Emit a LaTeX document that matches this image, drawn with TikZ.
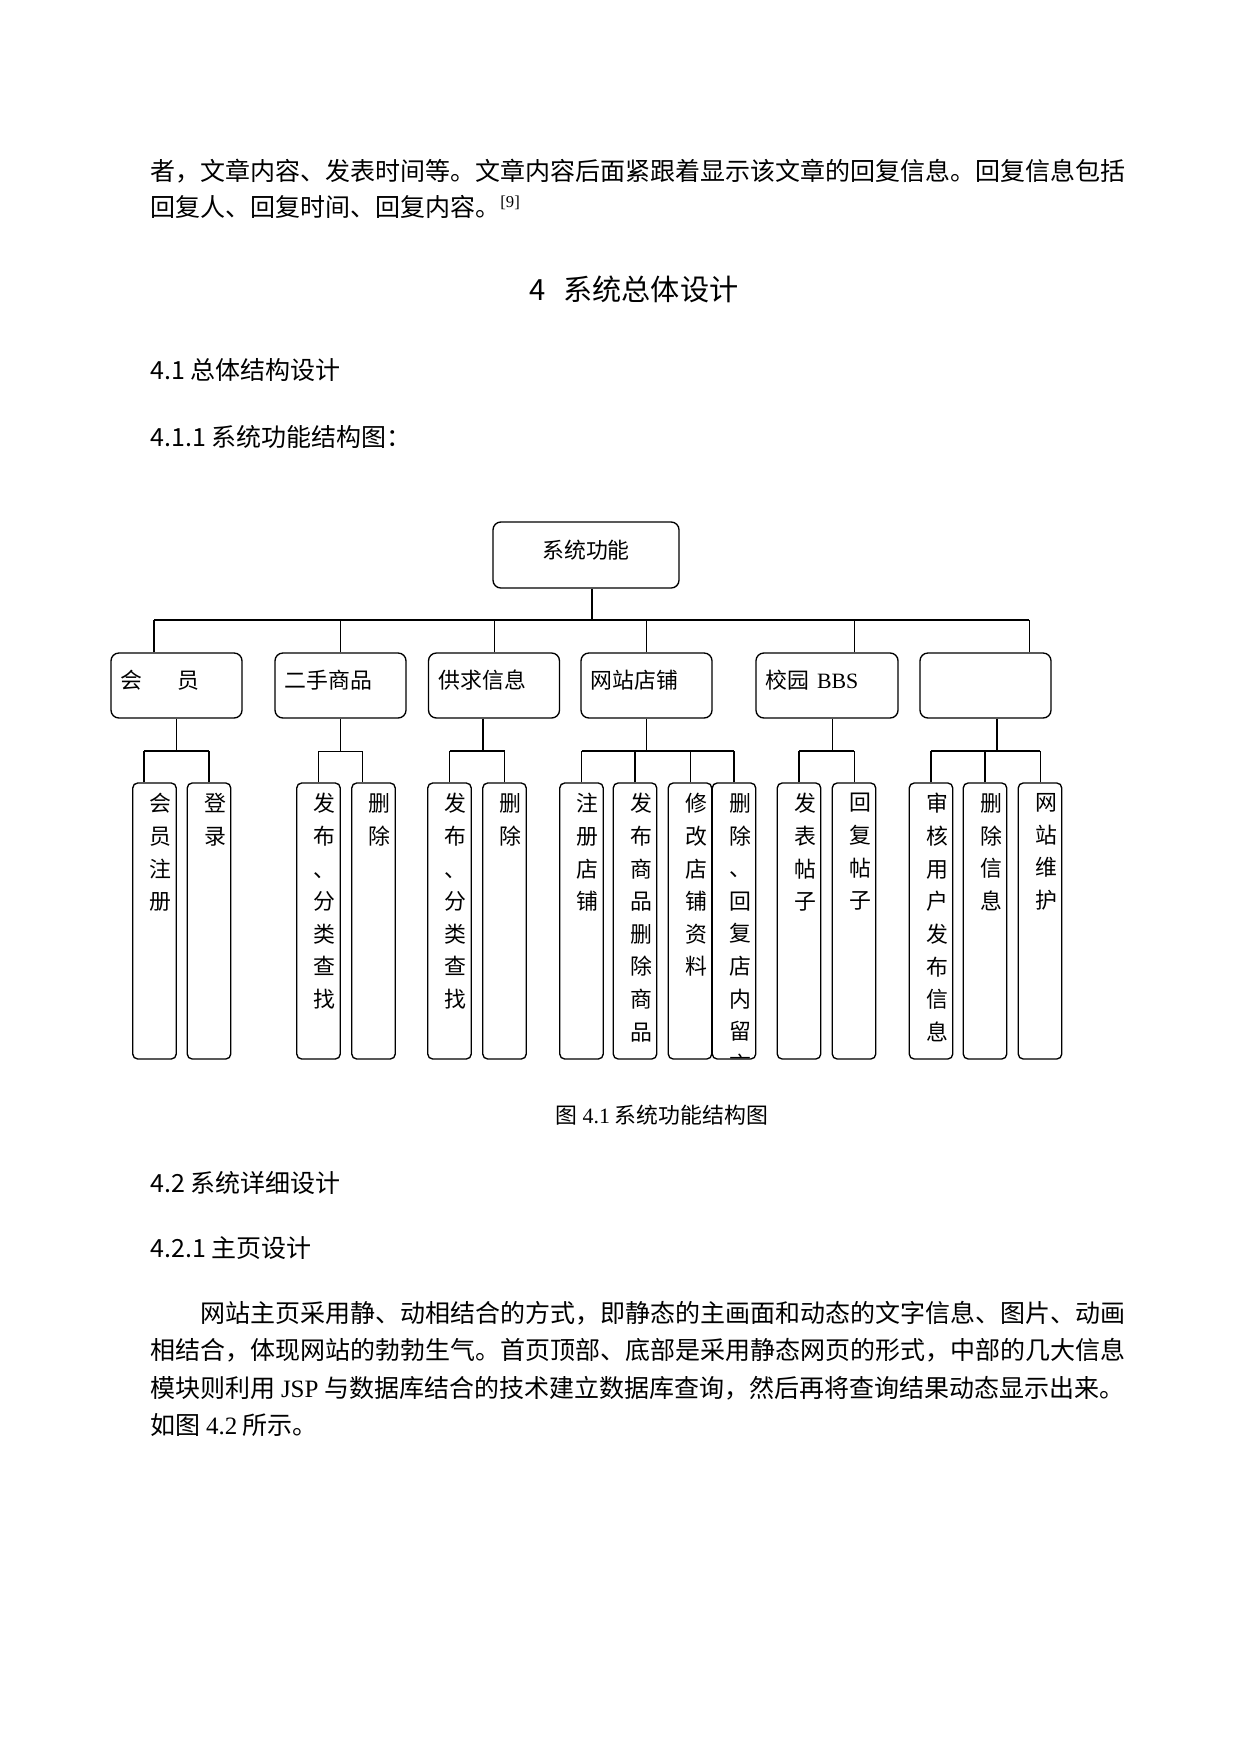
\documentclass[tikz,border=0pt]{standalone}
\usepackage{fontspec}
\setmainfont{Liberation Serif}
\newfontfamily\cjk{Noto Sans CJK SC}
\usetikzlibrary{calc}

\tikzset{
  thickline/.style={line width=0.8pt},
  thinline/.style={line width=0.35pt},
  rootbox/.style={draw, line width=0.65pt, rounded corners=3.8pt, minimum width=89.3pt, minimum height=31.7pt, text depth=5.7pt, font=\fontsize{10.5pt}{12pt}\selectfont\cjk},
  mainbox/.style={draw, line width=0.65pt, rounded corners=3.8pt, minimum height=31.2pt, inner xsep=4.8pt, text width=53.3pt, text depth=5.7pt, align=left, font=\fontsize{10.5pt}{12pt}\selectfont\cjk},
  vtext/.style={draw=none, anchor=north, inner sep=0pt, minimum width=0pt, minimum height=0pt, align=center, font=\fontsize{10.5pt}{15.65pt}\selectfont\cjk},
  subbox/.style 2 args={draw, line width=0.65pt, rounded corners=2.4pt, minimum width=20.9pt, minimum height=132.5pt, inner sep=0pt,
    path picture={\node[vtext] (#1) at ([xshift=2.9pt,yshift=-4.7pt]path picture bounding box.north) {#2};}},
  bodytext/.style={anchor=west, inner sep=0pt, font=\fontsize{12pt}{14pt}\selectfont\cjk},
  headtext/.style={anchor=west, inner sep=0pt, font=\fontsize{12pt}{14pt}\selectfont\cjk}
}

\begin{document}
\begin{tikzpicture}[x=0.48pt,y=-0.48pt]

\path[use as bounding box, fill=white] (0,0) rectangle (1241,1754);

% text above
\node[bodytext] (p1) at (150,171) {者，文章内容、发表时间等。文章内容后面紧跟着显示该文章的回复信息。回复信息包括};
\node[bodytext] (p2) at (150,207) {回复人、回复时间、回复内容。{\rmfamily\textsuperscript{[9]}}};
\node[inner sep=0pt, font=\fontsize{14pt}{16pt}\selectfont\cjk] (h4) at (634,289) {4\hspace{0.6em}系统总体设计};
\node[headtext] (h41) at (150,370) {4.1 总体结构设计};
\node[headtext] (h411) at (150,437) {4.1.1 系统功能结构图：};

% root and level 1
\node[rootbox] (root) at (586,555) {系统功能};
\node[mainbox] (m1) at (176.5,685.5) {会\hspace{16.4pt}员};
\node[mainbox] (m2) at (340.5,685.5) {二手商品};
\node[mainbox] (m3) at (494,685.5) {供求信息};
\node[mainbox] (m4) at (646.5,685.5) {网站店铺};
\node[mainbox, text width=58.6pt] (m5) at (827,685.5) {校园 {\rmfamily BBS}};
\node[mainbox] (m6) at (985.5,685.5) {};

% level 2
\node[subbox={a1t}{会\\员\\注\\册}] (a1) at (154.5,921) {};
\node[subbox={a2t}{登\\录}] (a2) at (209,921) {};
\node[subbox={b1t}{发\\布\\、\\分\\类\\查\\找}] (b1) at (318.5,921) {};
\node[subbox={b2t}{删\\除}] (b2) at (373.5,921) {};
\node[subbox={c1t}{发\\布\\、\\分\\类\\查\\找}] (c1) at (449.5,921) {};
\node[subbox={c2t}{删\\除}] (c2) at (504.5,921) {};
\node[subbox={d1t}{注\\册\\店\\铺}] (d1) at (581.5,921) {};
\node[subbox={d2t}{发\\布\\商\\品\\删\\除\\商\\品}] (d2) at (635,921) {};
\node[subbox={d3t}{修\\改\\店\\铺\\资\\料}] (d3) at (690,921) {};
\node[subbox={d4t}{删\\除\\、\\回\\复\\店\\内\\留\\言}] (d4) at (734,921) {};
\node[subbox={e1t}{发\\表\\帖\\子}] (e1) at (799,921) {};
\node[subbox={e2t}{回\\复\\帖\\子}] (e2) at (854,921) {};
\node[subbox={f1t}{审\\核\\用\\户\\发\\布\\信\\息}] (f1) at (931,921) {};
\node[subbox={f2t}{删\\除\\信\\息}] (f2) at (985,921) {};
\node[subbox={f3t}{网\\站\\维\\护}] (f3) at (1040,921) {};

% main bus
\coordinate (bus) at (0,620);
\coordinate (sbus) at (0,751);
\draw[thickline] ([xshift=2.9pt]root.south) -- ([xshift=2.9pt]root.south |- bus);
\draw[thickline] ([xshift=-10.8pt]m1.north |- bus) -- ([xshift=20.9pt]m6.north |- bus);

\foreach \n/\s/\w in {m1/-10.8pt/thickline, m2/0pt/thinline, m3/0pt/thinline, m4/0pt/thickline, m5/13pt/thinline, m6/20.9pt/thinline}
  \draw[\w] ([xshift=\s]\n.north) -- ([xshift=\s]\n.north |- bus);

\foreach \n/\s/\w in {m1/0pt/thinline, m2/0pt/thinline, m3/-5.3pt/thickline, m4/0pt/thinline, m5/2.4pt/thinline, m6/5.5pt/thickline}
  \draw[\w] ([xshift=\s]\n.south) -- ([xshift=\s]\n.south |- sbus);

% sub buses
\draw[thickline] ([xshift=-5pt]a1.north |- sbus) -- (a2.north |- sbus);
\draw[thinline] (b1.north |- sbus) -- ([xshift=-5.3pt]b2.north |- sbus);
\draw[thickline] (c1.north |- sbus) -- (c2.north |- sbus);
\draw[thickline] (d1.north |- sbus) -- (d4.north |- sbus);
\draw[thickline] (e1.north |- sbus) -- (e2.north |- sbus);
\draw[thickline] (f1.north |- sbus) -- (f3.north |- sbus);

\foreach \n/\s/\w in {a1/-5pt/thickline, a2/0pt/thickline, b1/0pt/thinline, b2/-5.3pt/thinline, c1/0pt/thickline, c2/0pt/thinline,
  d1/0pt/thickline, d2/0pt/thickline, d3/0pt/thinline, d4/0pt/thickline, e1/0pt/thickline, e2/0pt/thinline,
  f1/0pt/thickline, f2/0pt/thickline, f3/0pt/thinline}
  \draw[\w] ([xshift=\s]\n.north) -- ([xshift=\s]\n.north |- sbus);

% text below
\node[inner sep=0pt, font=\fontsize{10.5pt}{12pt}\selectfont\cjk] (cap) at (662,1115) {图 {\rmfamily 4.1} 系统功能结构图};
\node[headtext] (h42) at (150,1183) {4.2 系统详细设计};
\node[headtext] (h421) at (150,1248) {4.2.1 主页设计};
\node[bodytext] (q1) at (200,1313) {网站主页采用静、动相结合的方式，即静态的主画面和动态的文字信息、图片、动画};
\node[bodytext] (q2) at (150,1350) {相结合，体现网站的勃勃生气。首页顶部、底部是采用静态网页的形式，中部的几大信息};
\node[bodytext] (q3) at (150,1388) {模块则利用 {\rmfamily JSP} 与数据库结合的技术建立数据库查询，然后再将查询结果动态显示出来。};
\node[bodytext] (q4) at (150,1425) {如图 {\rmfamily 4.2} 所示。};

\end{tikzpicture}
\end{document}
